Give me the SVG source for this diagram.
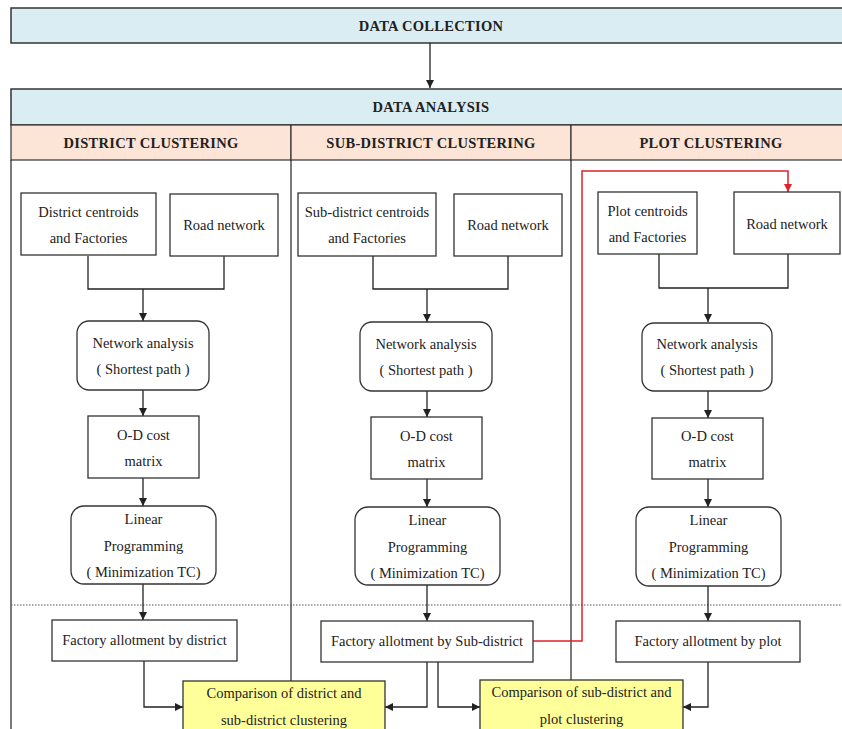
<svg xmlns="http://www.w3.org/2000/svg" width="842" height="729" viewBox="0 0 842 729">
<defs>
<marker id="ah" viewBox="0 0 10 10" refX="10" refY="5" markerWidth="8" markerHeight="8" markerUnits="userSpaceOnUse" orient="auto"><path d="M0,0 L10,5 L0,10 z" fill="#222"/></marker>
<marker id="ahr" viewBox="0 0 10 10" refX="10" refY="5" markerWidth="8" markerHeight="8" markerUnits="userSpaceOnUse" orient="auto"><path d="M0,0 L10,5 L0,10 z" fill="#e0202a"/></marker>
</defs>
<style>
.band{fill:#daedf3;stroke:#333;stroke-width:1.5}
.head{fill:#fce4d6;stroke:#333;stroke-width:1.2}
.box{fill:#fff;stroke:#333;stroke-width:1.3}
.cmp{fill:#ffff99;stroke:#333;stroke-width:1.3}
.div{fill:none;stroke:#222;stroke-width:1.2}
.ln{fill:none;stroke:#222;stroke-width:1.3}
.red{fill:none;stroke:#e0202a;stroke-width:1.5}
.dot{stroke:#555;stroke-width:1;stroke-dasharray:1.5 1.5}
text{font-family:"Liberation Serif","Times New Roman",serif;fill:#222;text-anchor:middle}
.t{font-size:14.5px}
.h{font-size:14.5px;font-weight:bold;letter-spacing:0.3px}
</style>
<rect width="842" height="729" fill="#fff"/>

<g id="data-collection">
<rect class="band" x="11" y="8" width="840" height="35"/>
<text class="h" x="431" y="31">DATA COLLECTION</text>
</g>

<g id="data-analysis">
<rect class="band" x="11" y="89" width="840" height="36"/>
<text class="h" x="431" y="112">DATA ANALYSIS</text>
</g>

<g id="headers">
<rect class="head" x="11" y="125" width="280" height="35"/>
<rect class="head" x="291" y="125" width="280" height="35"/>
<rect class="head" x="571" y="125" width="280" height="35"/>
<text class="h" x="151" y="148">DISTRICT CLUSTERING</text>
<text class="h" x="431" y="148">SUB-DISTRICT CLUSTERING</text>
<text class="h" x="711" y="148">PLOT CLUSTERING</text>
</g>

<g id="columns">
<path class="div" d="M11,160 V729"/>
<path class="div" d="M291,160 V681"/>
<path class="div" d="M571,160 V680"/>
<line class="dot" x1="11" y1="605" x2="842" y2="605"/>
</g>

<g id="connectors">
<path class="ln" d="M430,43 V88" marker-end="url(#ah)"/>
<!-- column 1 -->
<path class="ln" d="M88,256 V289 H224 V256"/>
<path class="ln" d="M143,289 V321" marker-end="url(#ah)"/>
<path class="ln" d="M143,390 V416" marker-end="url(#ah)"/>
<path class="ln" d="M143,478 V506" marker-end="url(#ah)"/>
<path class="ln" d="M143,584 V620" marker-end="url(#ah)"/>
<path class="ln" d="M144,661 V707 H183" marker-end="url(#ah)"/>
<!-- column 2 -->
<path class="ln" d="M373,256 V289 H508 V256"/>
<path class="ln" d="M427,289 V322" marker-end="url(#ah)"/>
<path class="ln" d="M427,391 V417" marker-end="url(#ah)"/>
<path class="ln" d="M427,479 V507" marker-end="url(#ah)"/>
<path class="ln" d="M427,585 V621" marker-end="url(#ah)"/>
<path class="ln" d="M427,662 V707 H385" marker-end="url(#ah)"/>
<path class="ln" d="M438,662 V707 H480" marker-end="url(#ah)"/>
<!-- column 3 -->
<path class="ln" d="M659,254 V288 H788 V254"/>
<path class="ln" d="M708,288 V322" stroke-width="2" marker-end="url(#ah)"/>
<path class="ln" d="M708,391 V418" marker-end="url(#ah)"/>
<path class="ln" d="M708,479 V507" marker-end="url(#ah)"/>
<path class="ln" d="M708,586 V621" marker-end="url(#ah)"/>
<path class="ln" d="M708,662 V707 H683" marker-end="url(#ah)"/>
<!-- red feedback -->
<path class="red" d="M533,641 H582 V171 H788 V192" marker-end="url(#ahr)"/>
</g>

<g id="district-centroids">
<rect class="box" x="21" y="193" width="135" height="62"/>
<text class="t" x="88.5" y="217">District centroids</text>
<text class="t" x="88.5" y="243">and Factories</text>
</g>
<g id="road-network-1">
<rect class="box" x="170" y="194" width="108" height="62"/>
<text class="t" x="224" y="230">Road network</text>
</g>
<g id="network-analysis-1">
<rect class="box" x="77" y="321" width="132" height="69" rx="12"/>
<text class="t" x="143" y="348">Network analysis</text>
<text class="t" x="143" y="374">( Shortest path )</text>
</g>
<g id="od-matrix-1">
<rect class="box" x="88" y="416" width="111" height="62"/>
<text class="t" x="143.5" y="440">O-D cost</text>
<text class="t" x="143.5" y="466">matrix</text>
</g>
<g id="lp-1">
<rect class="box" x="71" y="506" width="145" height="78" rx="13"/>
<text class="t" x="143.5" y="524">Linear</text>
<text class="t" x="143.5" y="551">Programming</text>
<text class="t" x="143.5" y="577">( Minimization TC)</text>
</g>
<g id="allot-district">
<rect class="box" x="52" y="620" width="185" height="41"/>
<text class="t" x="144.5" y="645">Factory allotment by district</text>
</g>

<g id="subdistrict-centroids">
<rect class="box" x="298" y="193" width="138" height="63"/>
<text class="t" x="367" y="217">Sub-district centroids</text>
<text class="t" x="367" y="243">and Factories</text>
</g>
<g id="road-network-2">
<rect class="box" x="454" y="194" width="108" height="62"/>
<text class="t" x="508" y="230">Road network</text>
</g>
<g id="network-analysis-2">
<rect class="box" x="360" y="322" width="132" height="69" rx="12"/>
<text class="t" x="426" y="349">Network analysis</text>
<text class="t" x="426" y="375">( Shortest path )</text>
</g>
<g id="od-matrix-2">
<rect class="box" x="371" y="417" width="111" height="62"/>
<text class="t" x="426.5" y="441">O-D cost</text>
<text class="t" x="426.5" y="467">matrix</text>
</g>
<g id="lp-2">
<rect class="box" x="355" y="507" width="145" height="78" rx="13"/>
<text class="t" x="427.5" y="525">Linear</text>
<text class="t" x="427.5" y="552">Programming</text>
<text class="t" x="427.5" y="578">( Minimization TC)</text>
</g>
<g id="allot-subdistrict">
<rect class="box" x="321" y="621" width="212" height="41"/>
<text class="t" x="427" y="646">Factory allotment by Sub-district</text>
</g>

<g id="plot-centroids">
<rect class="box" x="598" y="192" width="99" height="62"/>
<text class="t" x="647.5" y="216">Plot centroids</text>
<text class="t" x="647.5" y="242">and Factories</text>
</g>
<g id="road-network-3">
<rect class="box" x="734" y="192" width="106" height="62"/>
<text class="t" x="787" y="229">Road network</text>
</g>
<g id="network-analysis-3">
<rect class="box" x="642" y="323" width="130" height="68" rx="12"/>
<text class="t" x="707" y="349">Network analysis</text>
<text class="t" x="707" y="375">( Shortest path )</text>
</g>
<g id="od-matrix-3">
<rect class="box" x="652" y="418" width="111" height="61"/>
<text class="t" x="707.5" y="441">O-D cost</text>
<text class="t" x="707.5" y="467">matrix</text>
</g>
<g id="lp-3">
<rect class="box" x="636" y="507" width="145" height="79" rx="13"/>
<text class="t" x="708.5" y="525">Linear</text>
<text class="t" x="708.5" y="552">Programming</text>
<text class="t" x="708.5" y="578">( Minimization TC)</text>
</g>
<g id="allot-plot">
<rect class="box" x="616" y="621" width="184" height="41"/>
<text class="t" x="708" y="646">Factory allotment by plot</text>
</g>

<g id="compare-district-subdistrict">
<rect class="cmp" x="183" y="681" width="202" height="60"/>
<text class="t" x="284" y="698">Comparison of district and</text>
<text class="t" x="284" y="725">sub-district clustering</text>
</g>
<g id="compare-subdistrict-plot">
<rect class="cmp" x="480" y="680" width="203" height="60"/>
<text class="t" x="581.5" y="697">Comparison of sub-district and</text>
<text class="t" x="581.5" y="724">plot clustering</text>
</g>
</svg>
